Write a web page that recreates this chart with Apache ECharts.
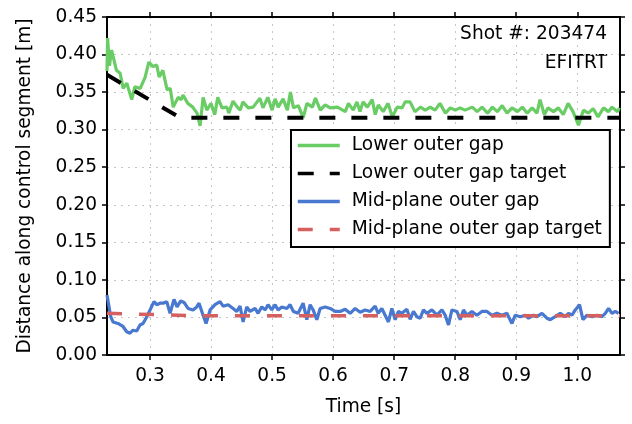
<!DOCTYPE html>
<head>
    <meta charset="utf-8">
    <title>gap control</title>
    <script src="https://cdn.jsdelivr.net/npm/echarts@6/dist/echarts.min.js"></script>
</head>
<body style="margin:0">
    <div id="main" style="width:632px;height:424px"></div>
    <script type="text/javascript">
    // axis ticks
    var xTicks = [0.3, 0.4, 0.5, 0.6, 0.7, 0.8, 0.9, 1.0];
    var yTicks = [0, 0.05, 0.1, 0.15, 0.2, 0.25, 0.3, 0.35, 0.4, 0.45];

    // lower outer gap (measured)
    var lowerT = [0.2295, 0.2305, 0.2335, 0.237, 0.245, 0.251, 0.256, 0.262, 0.270, 0.275, 0.284, 0.292, 0.298,
        0.305, 0.311, 0.315, 0.321, 0.328, 0.333, 0.338, 0.346, 0.351, 0.354, 0.362, 0.370, 0.377, 0.382, 0.387,
        0.393, 0.400, 0.406, 0.411, 0.418, 0.426, 0.429, 0.436, 0.443, 0.448, 0.452, 0.461, 0.469, 0.480, 0.485,
        0.493, 0.500, 0.505, 0.510, 0.518, 0.525, 0.530, 0.535, 0.543, 0.551, 0.557, 0.566, 0.571, 0.579, 0.587,
        0.595, 0.607, 0.620, 0.625, 0.633, 0.639, 0.644, 0.649, 0.656, 0.664, 0.669, 0.674, 0.682, 0.690, 0.697,
        0.705, 0.713, 0.718, 0.726, 0.734, 0.743, 0.751, 0.759, 0.767, 0.775, 0.784, 0.792, 0.800, 0.808, 0.816,
        0.828, 0.836, 0.844, 0.853, 0.861, 0.869, 0.877, 0.885, 0.893, 0.902, 0.910, 0.918, 0.926, 0.934, 0.939,
        0.946, 0.952, 0.961, 0.969, 0.977, 0.985, 0.993, 1.002, 1.010, 1.018, 1.026, 1.034, 1.043, 1.051, 1.057,
        1.066, 1.069];
    var lowerGap = [0.378, 0.422, 0.385, 0.406, 0.379, 0.375, 0.355, 0.362, 0.340, 0.357, 0.355, 0.370, 0.390,
        0.384, 0.386, 0.370, 0.379, 0.353, 0.355, 0.330, 0.343, 0.340, 0.346, 0.335, 0.330, 0.322, 0.305, 0.343,
        0.326, 0.335, 0.320, 0.343, 0.329, 0.330, 0.322, 0.338, 0.330, 0.326, 0.337, 0.329, 0.330, 0.342, 0.329,
        0.343, 0.326, 0.341, 0.330, 0.341, 0.326, 0.350, 0.329, 0.332, 0.316, 0.335, 0.330, 0.342, 0.326, 0.333,
        0.329, 0.330, 0.324, 0.335, 0.326, 0.337, 0.324, 0.337, 0.330, 0.340, 0.320, 0.333, 0.324, 0.335, 0.317,
        0.330, 0.329, 0.337, 0.337, 0.324, 0.330, 0.326, 0.330, 0.326, 0.335, 0.322, 0.329, 0.326, 0.329, 0.326,
        0.330, 0.324, 0.330, 0.322, 0.330, 0.324, 0.332, 0.322, 0.329, 0.324, 0.330, 0.322, 0.329, 0.322, 0.340,
        0.320, 0.329, 0.324, 0.329, 0.320, 0.335, 0.324, 0.306, 0.326, 0.322, 0.328, 0.317, 0.329, 0.324, 0.330,
        0.324, 0.329];

    // lower outer gap target
    var lowerTargetT = [0.2295, 0.349, 1.07];
    var lowerTarget = [0.373, 0.316, 0.316];

    // mid-plane outer gap (measured)
    var midT = [0.2295, 0.231, 0.2356, 0.2393, 0.2475, 0.2557, 0.2618, 0.2672, 0.2721, 0.2782, 0.2836, 0.2885,
        0.2934, 0.300, 0.3065, 0.311, 0.3164, 0.3213, 0.3274, 0.3328, 0.3393, 0.3443, 0.3503, 0.3557, 0.3623,
        0.3705, 0.3766, 0.3803, 0.3869, 0.3918, 0.3984, 0.4065, 0.4147, 0.4197, 0.4279, 0.4361, 0.4421, 0.4475,
        0.4525, 0.4585, 0.4639, 0.4721, 0.477, 0.4831, 0.4885, 0.4934, 0.4995, 0.5049, 0.5098, 0.5159, 0.5241,
        0.5295, 0.5349, 0.5426, 0.5508, 0.5569, 0.5623, 0.5672, 0.5733, 0.5787, 0.5869, 0.5951, 0.6033, 0.6115,
        0.6197, 0.6279, 0.6361, 0.6443, 0.6525, 0.6607, 0.6688, 0.6738, 0.6798, 0.6852, 0.6906, 0.6962, 0.7016,
        0.707, 0.7126, 0.7208, 0.7262, 0.7316, 0.7372, 0.7426, 0.748, 0.7536, 0.7618, 0.77, 0.7782, 0.7836,
        0.789, 0.7946, 0.8028, 0.8082, 0.8136, 0.8192, 0.8274, 0.8356, 0.8438, 0.852, 0.8602, 0.8684, 0.8765,
        0.8847, 0.8929, 0.8984, 0.9066, 0.9148, 0.9202, 0.9284, 0.9339, 0.9421, 0.9503, 0.9557, 0.9639, 0.9721,
        0.9803, 0.9857, 0.9913, 0.9967, 1.0037, 1.0093, 1.0159, 1.0241, 1.0323, 1.0405, 1.0459, 1.0513, 1.0569,
        1.0623, 1.0677];
    var midGap = [0.080, 0.078, 0.051, 0.044, 0.042, 0.038, 0.031, 0.029, 0.033, 0.032, 0.040, 0.042,
        0.049, 0.060, 0.071, 0.067, 0.069, 0.069, 0.071, 0.0555, 0.074, 0.064, 0.072, 0.070, 0.062,
        0.060, 0.064, 0.069, 0.053, 0.042, 0.060, 0.067, 0.071, 0.065, 0.067, 0.062, 0.058, 0.065,
        0.044, 0.064, 0.058, 0.062, 0.0555, 0.064, 0.060, 0.067, 0.060, 0.067, 0.060, 0.064, 0.062,
        0.067, 0.058, 0.0555, 0.069, 0.047, 0.067, 0.060, 0.047, 0.062, 0.064, 0.062, 0.058, 0.058,
        0.061, 0.0555, 0.062, 0.057, 0.060, 0.058, 0.065, 0.0555, 0.062, 0.053, 0.044, 0.062, 0.047,
        0.058, 0.0555, 0.061, 0.0475, 0.058, 0.051, 0.049, 0.060, 0.0555, 0.060, 0.053, 0.060, 0.053,
        0.040, 0.060, 0.058, 0.047, 0.060, 0.053, 0.058, 0.053, 0.058, 0.058, 0.053, 0.0555, 0.053,
        0.0555, 0.042, 0.053, 0.051, 0.053, 0.049, 0.053, 0.051, 0.0555, 0.049, 0.047, 0.051, 0.0555,
        0.051, 0.0555, 0.053, 0.060, 0.067, 0.047, 0.053, 0.051, 0.053, 0.051, 0.0555, 0.062, 0.0555,
        0.058, 0.0555];

    // mid-plane outer gap target
    var midTargetT = [0.2295, 0.38, 1.07];
    var midTarget = [0.0555, 0.0523, 0.0523];

    function pairs(t, v) {
        return t.map(function (x, i) { return [x, v[i]]; });
    }

    var font = 'DejaVu Sans';
    var fs = 18.6;
    var myChart = echarts.init(document.getElementById('main'));
    myChart.setOption({
        animation: false,
        backgroundColor: '#fff',
        textStyle: {fontFamily: font},
        grid: {left: 107, right: 12, top: 17, bottom: 69},
        legend: {
            orient: 'vertical',
            left: 291,
            top: 130,
            padding: [6, 8, 8, 5],
            backgroundColor: '#fff',
            borderColor: '#000',
            borderWidth: 2,
            borderRadius: 0,
            itemWidth: 42,
            itemHeight: 14,
            itemGap: 9,
            itemStyle: {opacity: 0},
            lineStyle: {width: 3.5},
            textStyle: {fontSize: fs, color: '#000', fontFamily: font, lineHeight: 18, padding: [0, 0, 0, 7]},
            data: ['Lower outer gap', 'Lower outer gap target', 'Mid-plane outer gap', 'Mid-plane outer gap target']
        },
        xAxis: [{
            type: 'value',
            position: 'bottom',
            min: 0.2295,
            max: 1.07,
            name: 'Time [s]',
            nameLocation: 'middle',
            nameGap: 43,
            nameTextStyle: {fontSize: fs, color: '#000', fontFamily: font},
            axisLine: {onZero: false, lineStyle: {color: '#000', width: 2}},
            axisTick: {customValues: xTicks, length: 5, lineStyle: {color: '#000', width: 1.5}},
            axisLabel: {customValues: xTicks, fontSize: fs, color: '#000', margin: 12,
                formatter: function (v) { return v.toFixed(1); }},
            splitLine: {show: true, lineStyle: {color: '#c4c4c4', type: [2, 5], width: 1}}
        }, {
            type: 'value',
            position: 'top',
            min: 0.2295,
            max: 1.07,
            axisLine: {onZero: false, lineStyle: {color: '#000', width: 2}},
            axisTick: {customValues: xTicks, length: 5, lineStyle: {color: '#000', width: 1.5}},
            axisLabel: {show: false},
            splitLine: {show: false}
        }],
        yAxis: [{
            type: 'value',
            position: 'left',
            min: 0,
            max: 0.45,
            interval: 0.05,
            name: 'Distance along control segment [m]',
            nameLocation: 'middle',
            nameGap: 72,
            nameTextStyle: {fontSize: fs, color: '#000', fontFamily: font},
            axisLine: {show: true, onZero: false, lineStyle: {color: '#000', width: 2}},
            axisTick: {show: true, length: 5, lineStyle: {color: '#000', width: 1.5}},
            axisLabel: {fontSize: fs, color: '#000', margin: 10,
                formatter: function (v) { return v.toFixed(2); }},
            splitLine: {show: true, lineStyle: {color: '#c4c4c4', type: [2, 5], width: 1}}
        }, {
            type: 'value',
            position: 'right',
            min: 0,
            max: 0.45,
            interval: 0.05,
            axisLine: {show: true, onZero: false, lineStyle: {color: '#000', width: 2}},
            axisTick: {show: true, length: 5, lineStyle: {color: '#000', width: 1.5}},
            axisLabel: {show: false},
            splitLine: {show: false}
        }],
        graphic: [{
            type: 'text', right: 25, top: 25,
            style: {text: 'Shot #: 203474', fontSize: fs, fill: '#000', fontFamily: font}
        }, {
            type: 'text', right: 25, top: 54,
            style: {text: 'EFITRT', fontSize: fs, fill: '#000', fontFamily: font}
        }],
        series: [{
            name: 'Lower outer gap',
            type: 'line',
            symbol: 'none',
            data: pairs(lowerT, lowerGap),
            lineStyle: {color: '#6ACC65', width: 3.2},
            itemStyle: {color: '#6ACC65'}
        }, {
            name: 'Lower outer gap target',
            type: 'line',
            symbol: 'none',
            data: pairs(lowerTargetT, lowerTarget),
            lineStyle: {color: '#000', width: 4, type: [16, 16]},
            itemStyle: {color: '#000'}
        }, {
            name: 'Mid-plane outer gap',
            type: 'line',
            symbol: 'none',
            data: pairs(midT, midGap),
            lineStyle: {color: '#4878CF', width: 3.2},
            itemStyle: {color: '#4878CF'}
        }, {
            name: 'Mid-plane outer gap target',
            type: 'line',
            symbol: 'none',
            data: pairs(midTargetT, midTarget),
            lineStyle: {color: '#D65F5F', width: 3.5, type: [15, 17]},
            itemStyle: {color: '#D65F5F'}
        }]
    });
    </script>
</body>
